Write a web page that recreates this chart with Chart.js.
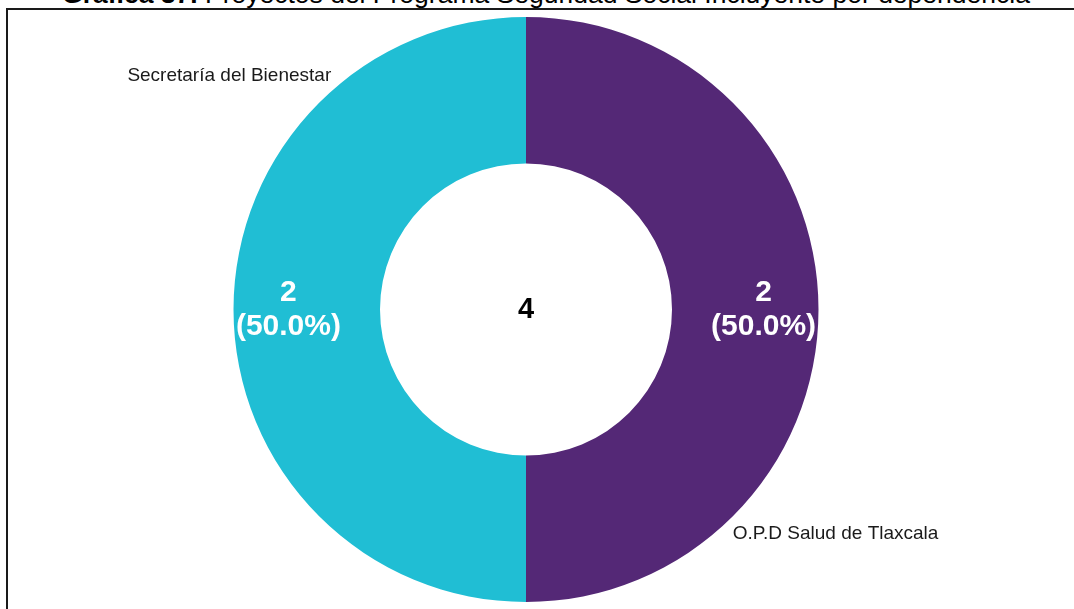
<!DOCTYPE html>
<html>
<head>
<meta charset="utf-8">
<script src="https://cdn.jsdelivr.net/npm/chart.js@4.4.1/dist/chart.umd.min.js"></script>
<style>
    html, body { margin: 0; padding: 0; background: #fff; overflow: hidden; }
    #page { position: relative; width: 1074px; height: 609px; overflow: hidden; }
    #title {
        position: absolute; left: 0; width: 1092px; top: -21px;
        text-align: center; white-space: nowrap;
        font-family: "Liberation Sans", Arial, sans-serif; font-size: 26.5px; color: #000;
    }
    #frame {
        position: absolute; left: 6px; top: 8px; width: 1200px; height: 700px;
        border-left: 2px solid #1a1a1a; border-top: 2px solid #1a1a1a;
    }
    #chartBox { position: absolute; left: 0; top: 0; width: 1074px; height: 609px; }
</style>
</head>
<body>
<div id="page">
    <div id="title"><b>Gráfica 37.</b> Proyectos del Programa Seguridad Social Incluyente por dependencia</div>
    <div id="frame"></div>
    <div id="chartBox"><canvas id="dependenciaChart"></canvas></div>
</div>
<script>
// Datos de la gráfica
const dependencias = ['O.P.D Salud de Tlaxcala', 'Secretaría del Bienestar'];
const proyectos = [2, 2];
const colores = ['#542876', '#20BED4'];

const total = proyectos.reduce((a, b) => a + b, 0);

// Etiquetas: valor y porcentaje dentro del anillo, nombre fuera, total al centro
const etiquetasPlugin = {
    id: 'etiquetas',
    afterDatasetsDraw(chart) {
        const ctx = chart.ctx;
        const meta = chart.getDatasetMeta(0);
        ctx.save();
        meta.data.forEach((arc, i) => {
            const p = arc.getProps(['x', 'y', 'startAngle', 'endAngle', 'innerRadius', 'outerRadius'], true);
            const mid = (p.startAngle + p.endAngle) / 2;
            const r = p.innerRadius + (p.outerRadius - p.innerRadius) * 0.625;
            const tx = p.x + Math.cos(mid) * r;
            const ty = p.y + Math.sin(mid) * r;
            const pct = (proyectos[i] / total * 100).toFixed(1);

            ctx.fillStyle = '#ffffff';
            ctx.font = 'bold 30px "Liberation Sans", Arial, sans-serif';
            ctx.textAlign = 'center';
            ctx.textBaseline = 'middle';
            ctx.fillText(String(proyectos[i]), tx, ty - 17);
            ctx.fillText('(' + pct + '%)', tx, ty + 17);

            // nombre de la dependencia fuera del anillo
            const a = p.endAngle - 0.72;
            const ro = p.outerRadius + 12;
            const lx = p.x + Math.cos(a) * ro;
            const ly = p.y + Math.sin(a) * ro;
            ctx.fillStyle = '#1a1a1a';
            ctx.font = '19px "Liberation Sans", Arial, sans-serif';
            ctx.textAlign = Math.cos(a) >= 0 ? 'left' : 'right';
            ctx.fillText(dependencias[i], lx + 6, ly - 5);
        });

        const c = meta.data[0];
        ctx.fillStyle = '#000000';
        ctx.font = 'bold 29px "Liberation Sans", Arial, sans-serif';
        ctx.textAlign = 'center';
        ctx.textBaseline = 'middle';
        ctx.fillText(String(total), c.x, c.y);
        ctx.restore();
    }
};

const canvasElement = document.getElementById('dependenciaChart');
const ctx = canvasElement.getContext('2d');

new Chart(ctx, {
    type: 'doughnut',
    data: {
        labels: dependencias,
        datasets: [{
            data: proyectos,
            backgroundColor: colores,
            borderWidth: 0,
            hoverOffset: 0
        }]
    },
    options: {
        responsive: true,
        maintainAspectRatio: false,
        animation: false,
        radius: 292.5,
        cutout: 146,
        layout: {
            padding: { top: 17, bottom: 7, left: 0, right: 22 }
        },
        plugins: {
            legend: { display: false },
            tooltip: { enabled: false }
        }
    },
    plugins: [etiquetasPlugin]
});
</script>
</body>
</html>
